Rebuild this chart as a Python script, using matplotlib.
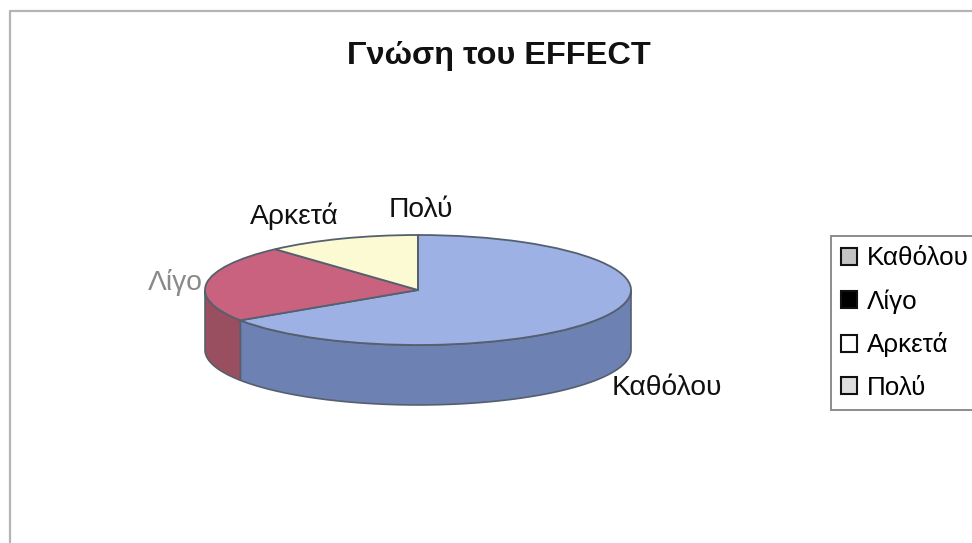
import numpy as np
import matplotlib
matplotlib.use("Agg")
import matplotlib.pyplot as plt
from matplotlib.patches import Patch

plt.rcParams["font.family"] = ["Liberation Sans", "DejaVu Sans"]

title = "Γνώση του EFFECT"
categories = ["Καθόλου", "Λίγο", "Αρκετά", "Πολύ"]
values = [65.7, 22.6, 11.7, 0.0]

top_colors = ["#9DB1E4", "#C9627F", "#FBFAD2", "#D9D9D9"]
side_colors = ["#6E81B3", "#9A4F60", "#C8C8A0", "#AAAAAA"]
legend_colors = ["#C4C4C4", "#000000", "#FFFFFF", "#DDDDDD"]
edge = "#55606E"
depth = 1.09

W, H = 972, 543
fig = plt.figure(figsize=(W / 100, H / 100), dpi=100, facecolor="white")

# chart frame
fig.add_artist(plt.Line2D([10 / W, 10 / W, 1], [0, 1 - 11 / H, 1 - 11 / H],
                          color="#B4B4B4", lw=1.6, transform=fig.transFigure))

# the pie lives in its own squashed axes: unit circle becomes the flat ellipse
cx0, cx1, cy0, cy1 = 205, 631, 235, 345
ax = fig.add_axes([cx0 / W, 1 - (cy1 + depth * 55) / H, (cx1 - cx0) / W,
                   (cy1 - cy0 + depth * 55) / H])

# wall of the cylinder, only the front half of each slice shows
start = 90.0
total = sum(values)
for val, col in zip(values, side_colors):
    sweep = val / total * 360
    end = start - sweep
    a0 = end % 360
    lo, hi = max(a0, 180), min(a0 + sweep, 360)
    if sweep > 0 and hi > lo:
        t = np.radians(np.linspace(lo, hi, 120))
        xs = np.r_[np.cos(t), np.cos(t[::-1])]
        ys = np.r_[np.sin(t), np.sin(t[::-1]) - depth]
        ax.fill(xs, ys, facecolor=col, edgecolor=edge, lw=1.2, clip_on=False)
    start = end

ax.pie(values, colors=top_colors, startangle=90, counterclock=False, radius=1,
       wedgeprops={"edgecolor": edge, "linewidth": 1.3, "clip_on": False})
ax.set_aspect("auto")
ax.set_xlim(-1, 1)
ax.set_ylim(-1 - depth, 1)
ax.axis("off")

# text is placed in pixel coordinates of the whole figure
def put(x, y, s, **kw):
    fig.text(x / W, 1 - y / H, s, va="center", **kw)

put(499, 56, title, ha="center", fontsize=23.4, fontweight="bold", color="#111111")
put(612, 388, categories[0], ha="left", fontsize=20.3, color="#111111")
put(203, 282, categories[1], ha="right", fontsize=20.3, color="#8A8A8A")
put(250, 216, categories[2], ha="left", fontsize=20.3, color="#111111")
put(389, 210, categories[3], ha="left", fontsize=20.3, color="#111111")

handles = [Patch(facecolor=c, edgecolor="#111111", lw=1.5) for c in legend_colors]
leg = fig.legend(handles, categories, loc="upper left",
                 bbox_to_anchor=(831 / W, 1 - 236 / H), fontsize=18.7,
                 fancybox=False, framealpha=1, edgecolor="#8C8C8C",
                 handlelength=0.62, handleheight=0.62, handletextpad=0.35,
                 labelspacing=0.72, borderpad=0.4, borderaxespad=0)
leg.get_frame().set_linewidth(1.4)

fig.savefig("out.png", dpi=100)
